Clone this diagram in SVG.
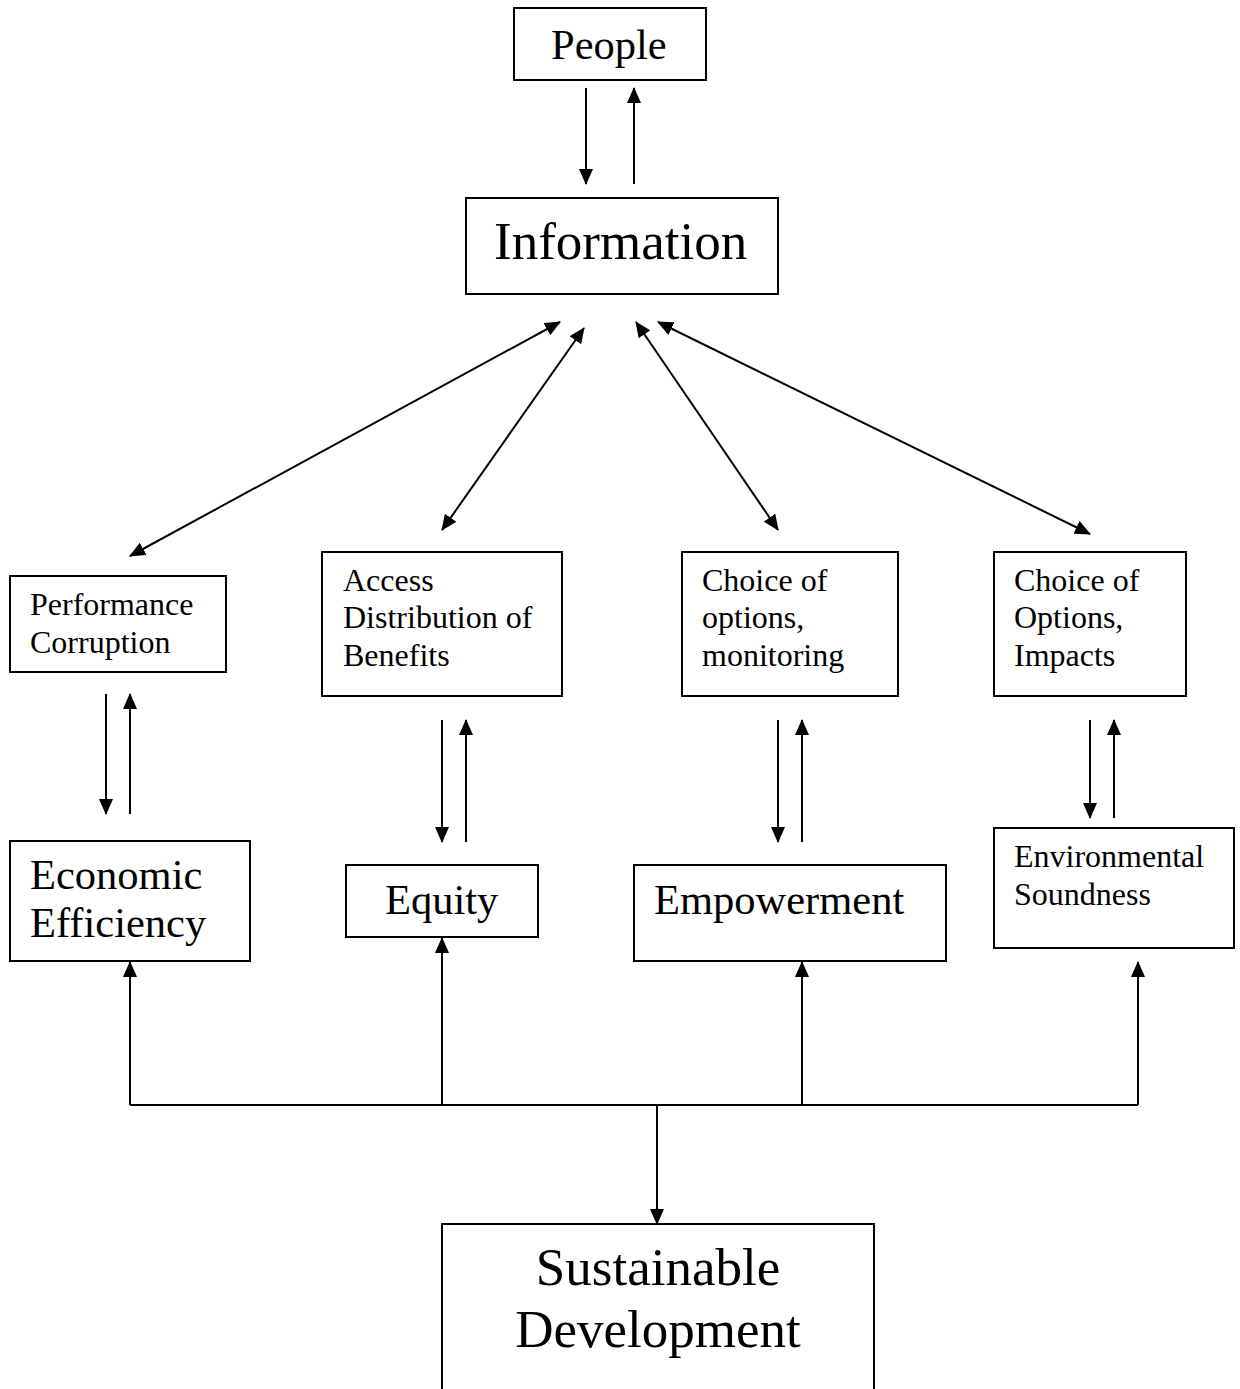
<svg xmlns="http://www.w3.org/2000/svg" width="1240" height="1389" viewBox="0 0 1240 1389">
<style>
.box{fill:#fff;stroke:#000;stroke-width:2}
.t{font-family:"Liberation Serif","Times New Roman",serif;fill:#000}
.s{font-size:32px}
.m{font-size:42.5px}
.l{font-size:53px}
.c{stroke:#000;stroke-width:2;fill:none}
</style>
<defs>
<marker id="ah" markerUnits="userSpaceOnUse" markerWidth="16" markerHeight="14" refX="15" refY="7" orient="auto-start-reverse" viewBox="0 0 16 14">
<path d="M0,0 L16,7 L0,14 Z" fill="#000"/>
</marker>
</defs>
<rect width="1240" height="1389" fill="#fff"/>
<g id="people"><rect class="box" x="514" y="8" width="192" height="72"/><text class="t m" x="551" y="59">People</text></g>
<g id="information"><rect class="box" x="466" y="198" width="312" height="96"/><text class="t l" x="494" y="259">Information</text></g>
<g id="performance"><rect class="box" x="10" y="576" width="216" height="96"/><text class="t s" x="30" y="615">Performance</text><text class="t s" x="30" y="653">Corruption</text></g>
<g id="access"><rect class="box" x="322" y="552" width="240" height="144"/><text class="t s" x="343" y="591">Access</text><text class="t s" x="343" y="628">Distribution of</text><text class="t s" x="343" y="666">Benefits</text></g>
<g id="choice1"><rect class="box" x="682" y="552" width="216" height="144"/><text class="t s" x="702" y="591">Choice of</text><text class="t s" x="702" y="628">options,</text><text class="t s" x="702" y="666">monitoring</text></g>
<g id="choice2"><rect class="box" x="994" y="552" width="192" height="144"/><text class="t s" x="1014" y="591">Choice of</text><text class="t s" x="1014" y="628">Options,</text><text class="t s" x="1014" y="666">Impacts</text></g>
<g id="economic"><rect class="box" x="10" y="841" width="240" height="120"/><text class="t m" x="30" y="889">Economic</text><text class="t m" x="30" y="937">Efficiency</text></g>
<g id="equity"><rect class="box" x="346" y="865" width="192" height="72"/><text class="t m" x="385" y="914">Equity</text></g>
<g id="empowerment"><rect class="box" x="634" y="865" width="312" height="96"/><text class="t m" x="654" y="914">Empowerment</text></g>
<g id="environmental"><rect class="box" x="994" y="828" width="240" height="120"/><text class="t s" x="1014" y="867">Environmental</text><text class="t s" x="1014" y="905">Soundness</text></g>
<g id="sustainable"><path class="box" d="M442,1400 L442,1224 L874,1224 L874,1400"/><text class="t l" x="658" y="1285" text-anchor="middle">Sustainable</text><text class="t l" x="658" y="1347" text-anchor="middle">Development</text></g>
<g id="connectors">
<line class="c" x1="586" y1="88" x2="586" y2="184" marker-end="url(#ah)"/>
<line class="c" x1="634" y1="184" x2="634" y2="88" marker-end="url(#ah)"/>
<line class="c" x1="560" y1="322" x2="130" y2="556" marker-start="url(#ah)" marker-end="url(#ah)"/>
<line class="c" x1="584" y1="328" x2="442" y2="530" marker-start="url(#ah)" marker-end="url(#ah)"/>
<line class="c" x1="636" y1="322" x2="778" y2="530" marker-start="url(#ah)" marker-end="url(#ah)"/>
<line class="c" x1="658" y1="322" x2="1090" y2="534" marker-start="url(#ah)" marker-end="url(#ah)"/>
<line class="c" x1="106" y1="694" x2="106" y2="814" marker-end="url(#ah)"/>
<line class="c" x1="130" y1="814" x2="130" y2="694" marker-end="url(#ah)"/>
<line class="c" x1="442" y1="720" x2="442" y2="842" marker-end="url(#ah)"/>
<line class="c" x1="466" y1="842" x2="466" y2="720" marker-end="url(#ah)"/>
<line class="c" x1="778" y1="720" x2="778" y2="842" marker-end="url(#ah)"/>
<line class="c" x1="802" y1="842" x2="802" y2="720" marker-end="url(#ah)"/>
<line class="c" x1="1090" y1="720" x2="1090" y2="818" marker-end="url(#ah)"/>
<line class="c" x1="1114" y1="818" x2="1114" y2="720" marker-end="url(#ah)"/>
<line class="c" x1="130" y1="1105" x2="1138" y2="1105"/>
<line class="c" x1="130" y1="1105" x2="130" y2="962" marker-end="url(#ah)"/>
<line class="c" x1="442" y1="1105" x2="442" y2="938" marker-end="url(#ah)"/>
<line class="c" x1="802" y1="1105" x2="802" y2="962" marker-end="url(#ah)"/>
<line class="c" x1="1138" y1="1105" x2="1138" y2="962" marker-end="url(#ah)"/>
<line class="c" x1="657" y1="1105" x2="657" y2="1224" marker-end="url(#ah)"/>
</g>
</svg>
